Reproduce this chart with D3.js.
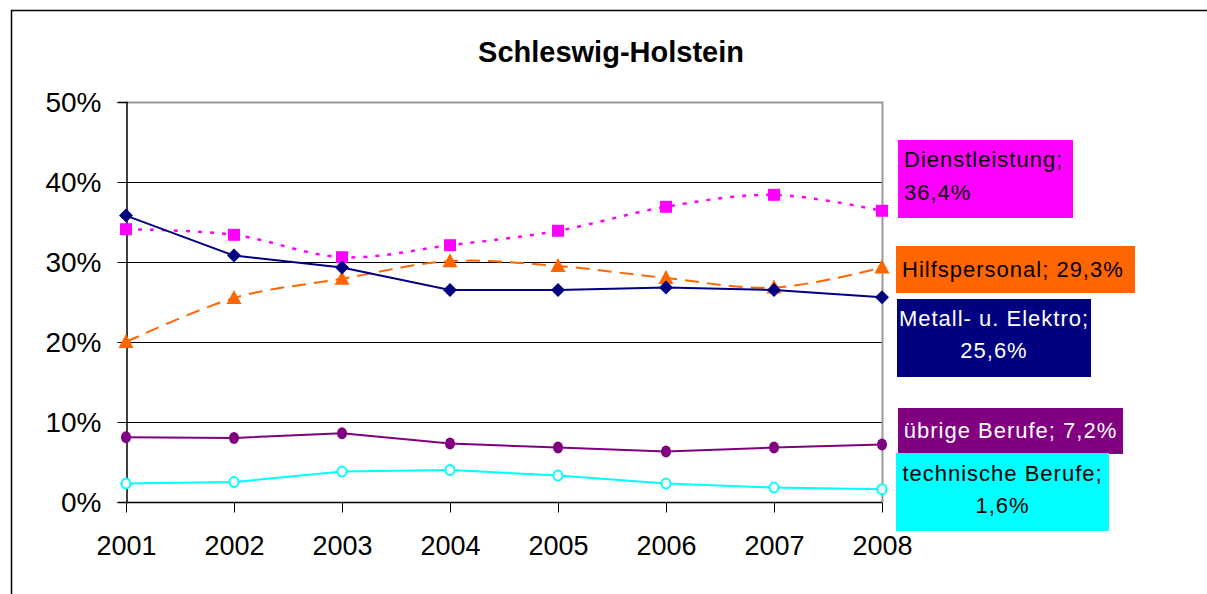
<!DOCTYPE html>
<html>
<head>
<meta charset="utf-8">
<script src="https://cdn.jsdelivr.net/npm/d3@7"></script>
<style>
  body { margin: 0; background: #fff; }
  text { font-family: "Liberation Sans", Arial, sans-serif; }
</style>
</head>
<body>
<script>
// chart data
var YEARS = [2001, 2002, 2003, 2004, 2005, 2006, 2007, 2008];
var Y_TICKS = [0, 10, 20, 30, 40, 50];

var DIENSTLEISTUNG = [34.1, 33.4, 30.6, 32.1, 33.9, 36.9, 38.4, 36.4];
var HILFSPERSONAL = [20.0, 25.5, 27.9, 30.1, 29.5, 28.0, 26.8, 29.3];
var METALL = [35.8, 30.8, 29.3, 26.5, 26.5, 26.8, 26.5, 25.6];
var UEBRIGE = [8.1, 8.0, 8.6, 7.3, 6.8, 6.3, 6.8, 7.2];
var TECHNISCHE = [2.3, 2.5, 3.8, 4.0, 3.3, 2.3, 1.8, 1.6];

var SERIES_NAMES = ["Dienstleistung", "Hilfspersonal", "Metall- u. Elektro", "übrige Berufe", "technische Berufe"];

var WIDTH = 1207, HEIGHT = 594;
var PLOT_LEFT = 126, PLOT_RIGHT = 882, PLOT_TOP = 102, PLOT_BOTTOM = 502;

var svg = d3.select("body").append("svg")
    .attr("width", WIDTH)
    .attr("height", HEIGHT);

// outer chart frame (only top and left edges visible)
svg.append("path")
    .attr("d", "M11.5," + HEIGHT + "V10.5H" + WIDTH)
    .attr("fill", "none")
    .attr("stroke", "#000")
    .attr("stroke-width", 1.5);

svg.append("text")
    .attr("x", 611)
    .attr("y", 62)
    .attr("text-anchor", "middle")
    .style("font-size", "29px")
    .style("font-weight", "bold")
    .text("Schleswig-Holstein");

var x = d3.scalePoint().domain(YEARS).range([PLOT_LEFT, PLOT_RIGHT]);
var y = d3.scaleLinear().domain([0, 50]).range([PLOT_BOTTOM, PLOT_TOP]);

// gridlines
svg.append("g").selectAll("line")
    .data(Y_TICKS.slice(1, -1))
    .join("line")
    .attr("x1", PLOT_LEFT).attr("x2", PLOT_RIGHT)
    .attr("y1", d => Math.round(y(d)) + 0.5).attr("y2", d => Math.round(y(d)) + 0.5)
    .attr("stroke", "#000")
    .attr("stroke-width", 1);

// gray plot border (top and right)
svg.append("path")
    .attr("d", "M" + PLOT_LEFT + "," + (PLOT_TOP + 0.5) + "H" + (PLOT_RIGHT + 0.5) + "V" + PLOT_BOTTOM)
    .attr("fill", "none")
    .attr("stroke", "#999")
    .attr("stroke-width", 2);

// y axis
var yAxis = svg.append("g")
    .attr("transform", "translate(" + (PLOT_LEFT + 0.5) + ",0)")
    .call(d3.axisLeft(y).tickValues(Y_TICKS).tickSize(9).tickPadding(16).tickFormat(d => d + "%"));
yAxis.select(".domain").attr("stroke", "#000").attr("stroke-width", 1.5);
yAxis.selectAll("line").attr("stroke", "#000");
yAxis.selectAll("text")
    .style("font-size", "28px")
    .style("font-family", "Liberation Sans, Arial, sans-serif")
    .attr("fill", "#000")
    .attr("dy", "0.35em");

// x axis
var xAxis = svg.append("g")
    .attr("transform", "translate(0," + (PLOT_BOTTOM + 0.5) + ")")
    .call(d3.axisBottom(x).tickSize(10).tickPadding(23).tickSizeOuter(0));
xAxis.select(".domain").attr("stroke", "#000").attr("stroke-width", 1.5)
    .attr("d", "M" + PLOT_LEFT + ",0H" + PLOT_RIGHT);
xAxis.selectAll("line").attr("stroke", "#000");
xAxis.selectAll("text")
    .style("font-size", "27px")
    .style("font-family", "Liberation Sans, Arial, sans-serif")
    .attr("fill", "#000");

var series = [
  { name: SERIES_NAMES[0], values: DIENSTLEISTUNG, color: "#ff00ff", dash: "4,8", width: 2.5, smooth: true, marker: "square" },
  { name: SERIES_NAMES[1], values: HILFSPERSONAL, color: "#ff6600", dash: "14,8", width: 2, smooth: true, marker: "triangle" },
  { name: SERIES_NAMES[2], values: METALL, color: "#000080", dash: null, width: 2, smooth: false, marker: "diamond" },
  { name: SERIES_NAMES[3], values: UEBRIGE, color: "#800080", dash: null, width: 2, smooth: false, marker: "dot" },
  { name: SERIES_NAMES[4], values: TECHNISCHE, color: "#00ffff", dash: null, width: 2, smooth: false, marker: "ring" }
];

series.forEach(function(s)
{
  var line = d3.line()
      .x((d, i) => x(YEARS[i]))
      .y(d => y(d))
      .curve(s.smooth ? d3.curveCatmullRom.alpha(0) : d3.curveLinear);

  svg.append("path")
      .datum(s.values)
      .attr("d", line)
      .attr("fill", "none")
      .attr("stroke", s.color)
      .attr("stroke-width", s.width)
      .attr("stroke-dasharray", s.dash);

  var g = svg.append("g");
  s.values.forEach(function(v, i)
  {
    var cx = x(YEARS[i]), cy = y(v);
    if (s.marker == "square")
    {
      g.append("rect").attr("x", cx - 6).attr("y", cy - 6).attr("width", 12).attr("height", 12).attr("fill", s.color);
    }
    else if (s.marker == "triangle")
    {
      g.append("path").attr("d", "M" + cx + "," + (cy - 8) + "L" + (cx + 7.5) + "," + (cy + 6) + "L" + (cx - 7.5) + "," + (cy + 6) + "Z").attr("fill", s.color);
    }
    else if (s.marker == "diamond")
    {
      g.append("path").attr("d", "M" + cx + "," + (cy - 7) + "L" + (cx + 7) + "," + cy + "L" + cx + "," + (cy + 7) + "L" + (cx - 7) + "," + cy + "Z").attr("fill", s.color);
    }
    else if (s.marker == "dot")
    {
      g.append("ellipse").attr("cx", cx).attr("cy", cy).attr("rx", 5).attr("ry", 6).attr("fill", s.color);
    }
    else
    {
      g.append("ellipse").attr("cx", cx).attr("cy", cy).attr("rx", 4.5).attr("ry", 5).attr("fill", "#fff").attr("stroke", s.color).attr("stroke-width", 2);
    }
  });
});

// data labels at the right end of each line
function fmt(v) { return String(v).replace(".", ","); }
var last = YEARS.length - 1;
var LABELS = [
  { s: 0, x: 898, y: 140, w: 175, h: 78, fill: "#ff00ff", color: "#000", anchor: "start", lines: [SERIES_NAMES[0] + ";", fmt(DIENSTLEISTUNG[last]) + "%"], base: [167, 200] },
  { s: 1, x: 896, y: 246, w: 239, h: 47, fill: "#ff6600", color: "#000", anchor: "start", lines: [SERIES_NAMES[1] + "; " + fmt(HILFSPERSONAL[last]) + "%"], base: [277] },
  { s: 2, x: 897, y: 299, w: 194, h: 78, fill: "#000080", color: "#fff", anchor: "middle", lines: [SERIES_NAMES[2] + ";", fmt(METALL[last]) + "%"], base: [326, 358] },
  { s: 3, x: 898, y: 408, w: 225, h: 46, fill: "#800080", color: "#fff", anchor: "middle", lines: [SERIES_NAMES[3] + "; " + fmt(UEBRIGE[last]) + "%"], base: [438] },
  { s: 4, x: 896, y: 453, w: 213, h: 78, fill: "#00ffff", color: "#000", anchor: "middle", lines: [SERIES_NAMES[4] + ";", fmt(TECHNISCHE[last]) + "%"], base: [481, 513] }
];

LABELS.forEach(function(l)
{
  svg.append("rect")
      .attr("x", l.x).attr("y", l.y)
      .attr("width", l.w).attr("height", l.h)
      .attr("fill", l.fill);
  l.lines.forEach(function(t, i)
  {
    svg.append("text")
        .attr("x", l.anchor == "middle" ? l.x + l.w / 2 : l.x + 6)
        .attr("y", l.base[i])
        .attr("text-anchor", l.anchor)
        .attr("fill", l.color)
        .style("font-size", "22px")
        .style("letter-spacing", "1px")
        .text(t);
  });
});
</script>
</body>
</html>
